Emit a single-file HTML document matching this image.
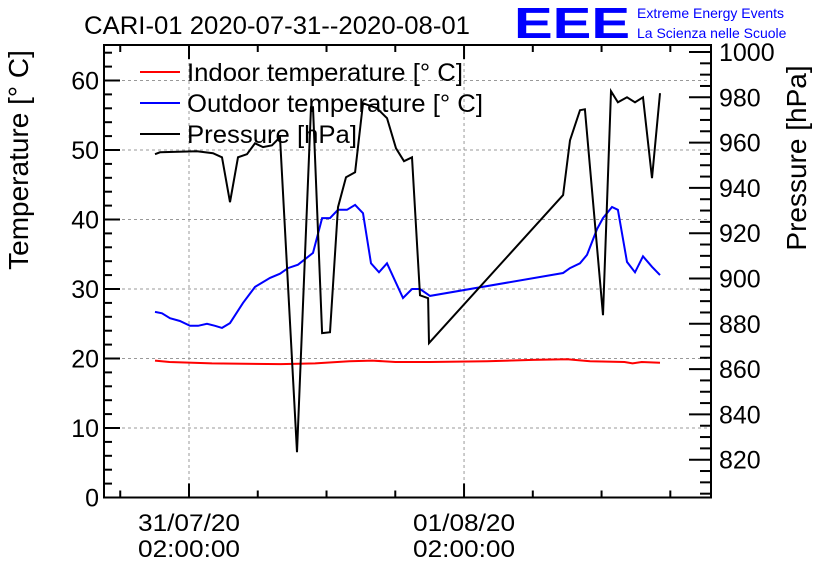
<!DOCTYPE html>
<html><head><meta charset="utf-8">
<style>
body{margin:0;background:#fff;}
svg text{font-family:"Liberation Sans",sans-serif;}
</style></head>
<body>
<svg id="c" width="836" height="572" xmlns="http://www.w3.org/2000/svg">
<rect width="836" height="572" fill="#fff"/>
<text x="84" y="34" font-size="25" textLength="386" lengthAdjust="spacingAndGlyphs">CARI-01 2020-07-31--2020-08-01</text>
<text x="514" y="38" font-size="44" fill="#00f" font-weight="bold" textLength="116" lengthAdjust="spacingAndGlyphs">EEE</text>
<text x="637" y="18" font-size="14" fill="#00f">Extreme Energy Events</text>
<text x="637" y="38" font-size="14" fill="#00f">La Scienza nelle Scuole</text>
<text transform="translate(28,160) rotate(-90)" text-anchor="middle" font-size="28">Temperature [° C]</text>
<text transform="translate(806,158) rotate(-90)" text-anchor="middle" font-size="28">Pressure [hPa]</text>
<g id="grid"></g><g id="series"></g><g id="axes"></g>
<g>
<line x1="140" y1="72" x2="180" y2="72" stroke="#f00" stroke-width="2"/>
<text x="187" y="81" font-size="25" textLength="276" lengthAdjust="spacingAndGlyphs">Indoor temperature [° C]</text>
<line x1="140" y1="103" x2="180" y2="103" stroke="#00f" stroke-width="2"/>
<text x="187" y="112" font-size="25" textLength="296" lengthAdjust="spacingAndGlyphs">Outdoor temperature [° C]</text>
<line x1="140" y1="134" x2="180" y2="134" stroke="#000" stroke-width="2"/>
<text x="187" y="143" font-size="25" textLength="170" lengthAdjust="spacingAndGlyphs">Pressure [hPa]</text>
</g>
</svg>
<script>
const indoorT=[-2.97,-1.7,2.0,8,11,14,16,18,21,26,30,33,35,38,38.7,39.5,41.1];
const indoorV=[19.7,19.5,19.3,19.2,19.3,19.6,19.7,19.5,19.5,19.6,19.8,19.9,19.6,19.5,19.3,19.5,19.4];
const outT=[-2.97,-2.36,-1.66,-0.79,0.09,0.79,1.57,2.27,2.88,3.58,4.71,5.76,7.07,7.94,8.64,9.51,10.82,11.61,12.3,13.0,13.79,14.49,15.18,15.88,16.58,17.28,18.67,19.46,20.16,21.03,32.64,33.25,34.12,34.73,35.6,36.13,36.91,37.43,38.22,38.92,39.62,40.4,41.1];
const outV=[26.7,26.5,25.8,25.4,24.7,24.7,25.0,24.7,24.4,25.1,28.0,30.3,31.6,32.2,33.0,33.5,35.2,40.2,40.2,41.4,41.4,42.1,40.9,33.7,32.4,33.7,28.7,30.0,30.0,29.0,32.3,33.0,33.7,34.9,38.6,40.2,41.8,41.4,33.9,32.4,34.7,33.2,32.0];
const presT=[-2.97,-2.53,0.70,2.09,2.88,3.58,4.28,5.06,5.76,6.46,7.24,7.94,9.42,10.65,10.82,11.61,12.30,13.0,13.7,14.49,15.18,16.4,17.28,18.06,18.76,19.46,20.16,20.86,20.94,32.64,33.25,34.12,34.55,36.13,36.82,37.43,38.22,38.92,39.62,40.4,41.1];
const presV=[954.9,955.7,956.2,955.3,953.5,933.7,953.5,954.9,959.7,958.0,958.8,962.4,823.3,975.6,975.6,875.9,876.3,931.5,944.7,946.9,977.4,975.2,970.8,957.5,951.8,953.5,892.6,891.3,871.5,936.8,961.0,974.3,974.7,883.8,982.7,977.8,980.0,977.8,980.0,944.3,981.8];
const tempTicks=[0,10,20,30,40,50,60];
const presTicks=[820,840,860,880,900,920,940,960,980,1000];
const timeLabels=[[0,"31/07/20","02:00:00"],[24,"01/08/20","02:00:00"]];

const L=104,R=711,T=45,B=497.5;
const X=t=>189+t*11.46;
const Y=v=>B-v*6.95;
const Y2=p=>52-(p-1000)*2.265;
const NS="http://www.w3.org/2000/svg";
function mk(tag,attrs,parent){const e=document.createElementNS(NS,tag);for(const k in attrs)e.setAttribute(k,attrs[k]);document.getElementById(parent).appendChild(e);return e;}
tempTicks.forEach(v=>{const e=mk('line',{x1:L,x2:R,y1:Y(v),y2:Y(v),stroke:'#999','stroke-dasharray':'3,3','stroke-width':1},'grid');

});
timeLabels.forEach(d=>{const e=mk('line',{x1:X(d[0]),x2:X(d[0]),y1:T,y2:B,stroke:'#999','stroke-dasharray':'3,3','stroke-width':1},'grid');

});
function line(ts,vs,f,col,name){const n=Math.min(ts.length,vs.length);const pts=[];for(let i=0;i<n;i++)pts.push(X(ts[i]).toFixed(1)+','+f(vs[i]).toFixed(1));
const e=mk('polyline',{points:pts.join(' '),fill:'none',stroke:col,'stroke-width':2,'stroke-linejoin':'miter'},'series');

}
line(indoorT,indoorV,Y,'#f00','indoor-temperature-line');
line(outT,outV,Y,'#00f','outdoor-temperature-line');
line(presT,presV,Y2,'#000','pressure-line');
const fr=mk('rect',{x:L,y:T,width:R-L,height:B-T,fill:'none',stroke:'#000','stroke-width':2},'axes');


for(let v=0;v<=64;v+=2){const maj=v%10===0;mk('line',{x1:L,x2:L+(maj?16:8),y1:Y(v),y2:Y(v),stroke:'#000','stroke-width':2},'axes');}
tempTicks.forEach(v=>{const e=mk('text',{x:99,y:Y(v)+9,'text-anchor':'end','font-size':25},'axes');e.textContent=v;

});
for(let p=805;p<=1000;p+=5){const maj=p%20===0;mk('line',{x1:R,x2:R-(maj?22:11),y1:Y2(p),y2:Y2(p),stroke:'#000','stroke-width':2},'axes');}
presTicks.forEach(p=>{const e=mk('text',{x:719,y:Y2(p)+9,'font-size':25},'axes');e.textContent=p;

});
for(let t=-6;t<=42;t+=6){const maj=t%24===0;mk('line',{x1:X(t),x2:X(t),y1:B,y2:B-(maj?14:7),stroke:'#000','stroke-width':2},'axes');
mk('line',{x1:X(t),x2:X(t),y1:T,y2:T+(maj?14:7),stroke:'#000','stroke-width':2},'axes');}
timeLabels.forEach(d=>{const a=mk('text',{x:X(d[0])-51,y:531,'font-size':24,textLength:102,lengthAdjust:'spacingAndGlyphs'},'axes');a.textContent=d[1];


const b=mk('text',{x:X(d[0])-51,y:557,'font-size':24,textLength:102,lengthAdjust:'spacingAndGlyphs'},'axes');b.textContent=d[2];

});
</script>
</body></html>
